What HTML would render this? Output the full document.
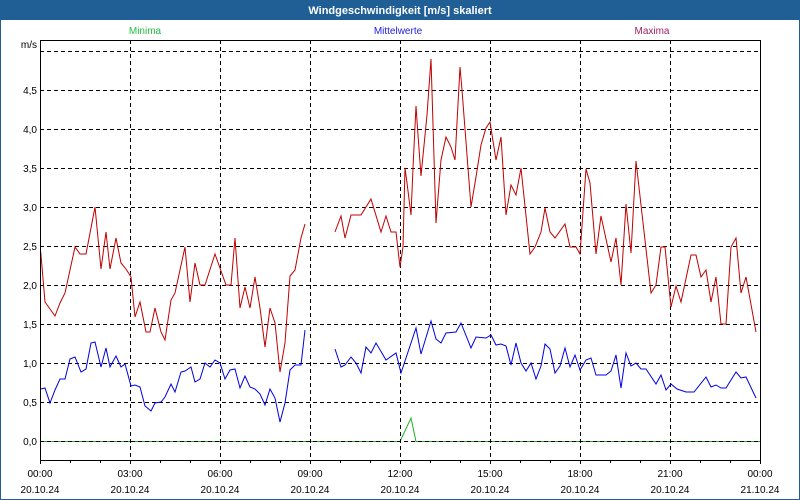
<!DOCTYPE html>
<html><head><style>
body{margin:0;background:#fff;}
svg{display:block;font-family:"Liberation Sans",sans-serif;}
</style></head><body>
<svg width="800" height="500" viewBox="0 0 800 500" xmlns="http://www.w3.org/2000/svg">
<rect x="0" y="0" width="800" height="500" fill="#fff"/>
<rect x="0.5" y="0.5" width="799" height="499" fill="none" stroke="#1f5f96"/>
<rect x="0" y="0" width="800" height="20" fill="#1f5f96"/>
<text x="400" y="14" text-anchor="middle" font-size="11" font-weight="bold" fill="#fff">Windgeschwindigkeit [m/s] skaliert</text>
<text x="145" y="34" text-anchor="middle" font-size="10" fill="#20c040">Minima</text>
<text x="398" y="34" text-anchor="middle" font-size="10" fill="#2020e0">Mittelwerte</text>
<text x="652" y="34" text-anchor="middle" font-size="10" fill="#a0206a">Maxima</text>
<polyline fill="none" stroke="#20b020" stroke-width="1" points="40,441.5 400,441.5 411,418 416,441.5 760,441.5"/>
<g stroke="#000" stroke-width="1" stroke-dasharray="4,3" fill="none">
<path d="M40 51.5H760M40 90.5H760M40 129.5H760M40 168.5H760M40 207.5H760M40 246.5H760M40 285.5H760M40 324.5H760M40 363.5H760M40 402.5H760M40 441.5H760"/>
<path d="M130.5 40V460M220.5 40V460M310.5 40V460M400.5 40V460M490.5 40V460M580.5 40V460M670.5 40V460"/>
</g>
<g font-size="10" fill="#000" text-anchor="end">
<text x="37" y="48">m/s</text>
<text x="37" y="94">4,5</text><text x="37" y="133">4,0</text><text x="37" y="172">3,5</text>
<text x="37" y="211">3,0</text><text x="37" y="250">2,5</text><text x="37" y="289">2,0</text>
<text x="37" y="328">1,5</text><text x="37" y="367">1,0</text><text x="37" y="406">0,5</text>
<text x="37" y="445">0,0</text>
</g>
<polyline fill="none" stroke="#c00000" stroke-width="1" points="40.7,251.7 45,302 55,316 60,303 65,293 75,247 80,254 86,254 95,207 101,269 106,232 110,269 116,238 121,263 126,269 131,277 135,317 140,302 146,332 150,332 155,308 161,332 165,340 171,300 175,293 185,247 190,302 195,263 200,285 205,285 215,254 226,285 231,285 235,238 240,308 245,287 250,308 255,277 260,308 265,347 270,308 275,323 280,372 285,343 290,276 295,270 301,238 305,224"/>
<polyline fill="none" stroke="#c00000" stroke-width="1" points="335,232 341,216 345,238 351,215 361,215 371,199 381,232 386,216 391,232 396,232 400,267 403,247 405,168 407,183 411,215 413,168 416,106 418,135 421,176 427,115 431,59 436,223 441,160 446,137 451,147 455,160 460,67 462,90 471,207 476,177 481,145 486,128 490,122 496,160 501,137 506,215 511,185 516,195 521,168 530,254 535,247 541,232 545,208 550,232 555,238 565,224 570,247 576,247 580,254 586,169 590,183 596,254 601,216 611,262 616,238 621,285 626,204 631,253 636,161 651,293 656,285 661,247 665,247 671,307 676,286 681,302 691,255 696,255 701,277 706,270 711,302 716,277 721,324 726,324 731,247 736,238 741,293 746,277 756,332"/>
<polyline fill="none" stroke="#0000e0" stroke-width="1" points="40.7,389 45,388 50,403 55,390 60,379 65,379 70,359 75,357 81,372 86,369 91,343 95,342 101,367 106,348 110,367 116,356 121,367 125,364 131,386 135,385 140,387 145,406 151,411 155,403 161,402 165,397 171,384 175,392 181,372 185,371 191,367 195,382 200,379 205,363 210,367 215,360 220,363 225,379 230,370 235,369 240,388 245,376 250,387 255,389 260,394 265,405 270,389 275,398 280,422 285,403 290,370 295,365 301,365 305,330"/>
<polyline fill="none" stroke="#0000e0" stroke-width="1" points="335,349 341,367 345,365 351,357 356,363 361,373 366,347 371,353 376,343 386,360 396,353 401,373 416,328 421,354 431,321 436,339 441,343 446,333 456,332 461,323 471,348 476,337 486,338 491,335 496,345 501,344 506,346 511,365 516,343 521,363 526,371 531,363 536,379 541,366 545,344 550,349 555,373 560,366 565,348 570,367 575,355 580,370 586,360 591,358 596,375 606,375 611,371 616,355 621,388 626,353 631,366 636,363 641,369 646,369 656,384 661,375 666,390 671,384 677,389 686,392 694,392 706,377 711,387 716,385 721,388 726,388 736,372 741,378 746,377 756,398"/>
<rect x="40.5" y="40.5" width="720" height="420" fill="none" stroke="#000" stroke-width="1"/>
<g stroke="#000">
<path d="M40.5 460V464M70.5 460V463M100.5 460V463M130.5 460V464M160.5 460V463M190.5 460V463M220.5 460V464M250.5 460V463M280.5 460V463M310.5 460V464M340.5 460V463M370.5 460V463M400.5 460V464M430.5 460V463M460.5 460V463M490.5 460V464M520.5 460V463M550.5 460V463M580.5 460V464M610.5 460V463M640.5 460V463M670.5 460V464M700.5 460V463M730.5 460V463M760.5 460V464"/>
</g>
<g font-size="10" fill="#000" text-anchor="middle">
<text x="40" y="477">00:00</text><text x="130" y="477">03:00</text><text x="220" y="477">06:00</text>
<text x="310" y="477">09:00</text><text x="400" y="477">12:00</text><text x="490" y="477">15:00</text>
<text x="580" y="477">18:00</text><text x="670" y="477">21:00</text><text x="760" y="477">00:00</text>
<text x="40" y="493">20.10.24</text><text x="130" y="493">20.10.24</text><text x="220" y="493">20.10.24</text>
<text x="310" y="493">20.10.24</text><text x="400" y="493">20.10.24</text><text x="490" y="493">20.10.24</text>
<text x="580" y="493">20.10.24</text><text x="670" y="493">20.10.24</text><text x="760" y="493">21.10.24</text>
</g>
</svg>
</body></html>
